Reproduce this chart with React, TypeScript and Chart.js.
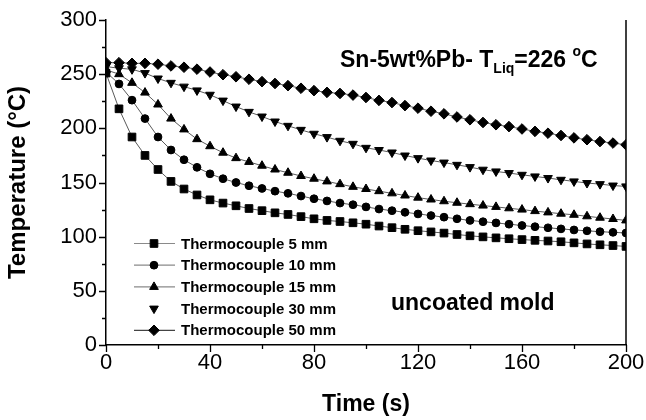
import { useEffect, useRef } from "react";
import { Chart, registerables } from "chart.js";
import { drawPoint } from "chart.js/helpers";

Chart.register(...registerables);

// Sampling instants (s)
const timeSeconds = [
  0, 5, 10, 15, 20, 25, 30, 35, 40, 45, 50, 55, 60, 65, 70, 75, 80, 85, 90, 95,
  100, 105, 110, 115, 120, 125, 130, 135, 140, 145, 150, 155, 160, 165, 170,
  175, 180, 185, 190, 195, 200,
];

// Thermocouple readings (°C)
const tc5mm = [
  251, 218, 192, 175, 162, 151, 144, 138.5, 134, 131, 128.5, 126, 124, 122,
  120.5, 118.5, 116.5, 115, 114, 112.8, 111.5, 109.8, 108.3, 106.8, 105.5,
  104.4, 103.3, 102, 100.8, 99.8, 98.9, 98.1, 97.3, 96.6, 96, 95.3, 94.3, 93.3,
  92.5, 91.8, 91,
];
const tc10mm = [
  252, 241, 226, 209, 192, 180, 171, 164, 158, 153.5, 150, 147, 144.5, 142, 140,
  137.5, 135, 133, 131, 129.5, 127.5, 125.5, 124, 122.5, 121, 119.5, 118, 116.5,
  115, 113.8, 112.7, 111.5, 110.3, 109.2, 108.2, 107.2, 106.2, 105.4, 104.6,
  104, 103.4,
];
const tc15mm = [
  254, 250, 242, 233, 222, 209, 199, 190, 183.5, 177.5, 172.5, 169, 165.5, 162,
  159, 156, 153.5, 151, 148.5, 146, 144, 142, 140, 138, 136, 134.3, 132.7,
  131.3, 130, 128.7, 127.5, 126.2, 125, 123.6, 122.4, 121.2, 120.2, 118.8,
  117.5, 116.3, 115,
];
const tc30mm = [
  257, 255.5, 254.5, 251, 246, 242, 238.5, 235, 231, 225.6, 220.1, 215.2, 210.9,
  206.3, 202.3, 198.6, 195, 191.9, 188.5, 185.7, 182, 180, 177.7, 174.9, 172.5,
  170.3, 168.4, 166.3, 164.2, 161.8, 160.2, 158.7, 157.1, 155.6, 154.1, 152.5,
  151, 149.5, 148.5, 147.2, 146.4,
];
const tc50mm = [
  260.6, 260.6, 260, 260, 259.2, 257.6, 256.4, 254.6, 252, 249.5, 247.6, 245.3,
  243.1, 241.4, 239.4, 237, 234.8, 233.2, 232.2, 230.7, 228.5, 225.8, 223.8,
  221, 218.6, 215.8, 213.4, 210.5, 207.9, 205.4, 203.3, 201.6, 199.4, 197.2,
  195.5, 193.4, 191.2, 189.5, 187.8, 186.4, 184.8,
];

const seriesLabels = [
  "Thermocouple 5 mm",
  "Thermocouple 10 mm",
  "Thermocouple 15 mm",
  "Thermocouple 30 mm",
  "Thermocouple 50 mm",
];
const seriesValues = [tc5mm, tc10mm, tc15mm, tc30mm, tc50mm];

const FONT = "'Liberation Sans', Arial, Helvetica, sans-serif";

type MarkerSpec = { style: any; radius: number; rotation: number; legendLine: boolean };
const markers: MarkerSpec[] = [
  { style: "rect", radius: 5.4, rotation: 0, legendLine: true },
  { style: "circle", radius: 3.9, rotation: 0, legendLine: true },
  { style: "triangle", radius: 5, rotation: 0, legendLine: true },
  { style: "triangle", radius: 5, rotation: 180, legendLine: false },
  { style: "rectRot", radius: 5.3, rotation: 0, legendLine: true },
];

// Minor/major tick marks pointing outward, right frame line, legend and notes
const decorations: any = {
  id: "decorations",
  afterDatasetsDraw(chart: any) {
    const { ctx, chartArea, scales } = chart;
    const xs = scales.x;
    const ys = scales.y;
    ctx.save();
    ctx.strokeStyle = "#000";
    ctx.lineWidth = 1.3;
    ctx.beginPath();
    for (let v = 0; v <= 200; v += 20) {
      const px = Math.round(xs.getPixelForValue(v)) + 0.5;
      const len = v % 40 === 0 ? 7 : 4;
      ctx.moveTo(px, chartArea.bottom);
      ctx.lineTo(px, chartArea.bottom + len);
    }
    for (let v = 0; v <= 300; v += 25) {
      const py = Math.round(ys.getPixelForValue(v)) + 0.5;
      const len = v % 50 === 0 ? 7 : 4;
      ctx.moveTo(chartArea.left, py);
      ctx.lineTo(chartArea.left - len, py);
    }
    ctx.stroke();

    // right frame line
    ctx.lineWidth = 1.5;
    ctx.beginPath();
    ctx.moveTo(chartArea.right, chartArea.top);
    ctx.lineTo(chartArea.right, chartArea.bottom);
    ctx.stroke();

    // legend
    const lx = chartArea.left + 28;
    const ly0 = chartArea.top + 223.5;
    const rowH = 21.7;
    ctx.font = `bold 15px ${FONT}`;
    ctx.textBaseline = "middle";
    ctx.textAlign = "left";
    seriesLabels.forEach((label, i) => {
      const y = ly0 + i * rowH;
      const m = markers[i];
      if (m.legendLine) {
        ctx.strokeStyle = i === 4 ? "#444" : "#8a8a8a";
        ctx.lineWidth = 1.2;
        ctx.beginPath();
        ctx.moveTo(lx, y);
        ctx.lineTo(lx + 41, y);
        ctx.stroke();
      }
      ctx.fillStyle = "#000";
      ctx.strokeStyle = "#000";
      ctx.lineWidth = 1;
      drawPoint(ctx, { pointStyle: m.style, radius: m.radius, rotation: m.rotation, borderWidth: 1 }, lx + 20, y);
      ctx.fillStyle = "#000";
      ctx.fillText(label, lx + 47, y + 1);
    });

    // alloy note with subscript / superscript
    ctx.fillStyle = "#000";
    ctx.textBaseline = "alphabetic";
    let tx = chartArea.left + 234;
    const base = chartArea.top + 47;
    const big = `bold 23px ${FONT}`;
    const small = `bold 14px ${FONT}`;
    const put = (s: string, font: string, dy: number) => {
      ctx.font = font;
      ctx.fillText(s, tx, base + dy);
      tx += ctx.measureText(s).width;
    };
    put("Sn-5wt%Pb- T", big, 0);
    put("Liq", small, 6);
    put("=226 ", big, 0);
    put("o", small, -11);
    put("C", big, 0);

    // mold note
    ctx.font = `bold 23px ${FONT}`;
    ctx.fillText("uncoated mold", chartArea.left + 285, chartArea.top + 290);
    ctx.restore();
  },
};

export default function App() {
  const canvasRef = useRef<HTMLCanvasElement | null>(null);

  useEffect(() => {
    const canvas = canvasRef.current;
    if (!canvas) return;

    const datasets = seriesLabels.map((label, i) => ({
      label,
      data: timeSeconds.map((t, k) => ({ x: t, y: seriesValues[i][k] })),
      borderColor: "#5a5a5a",
      borderWidth: 1,
      backgroundColor: "#000",
      pointBackgroundColor: "#000",
      pointBorderColor: "#000",
      pointBorderWidth: 1,
      pointStyle: markers[i].style,
      pointRadius: markers[i].radius,
      pointRotation: markers[i].rotation,
      tension: 0,
    }));

    const chart = new Chart(canvas, {
      type: "line",
      data: { datasets },
      plugins: [decorations],
      options: {
        responsive: false,
        animation: false,
        devicePixelRatio: 1,
        layout: { padding: { top: 20, right: 20, left: 0, bottom: 0 } },
        plugins: { legend: { display: false }, tooltip: { enabled: false } },
        scales: {
          x: {
            type: "linear",
            min: 0,
            max: 200,
            grid: { display: false, drawTicks: false },
            border: { display: true, color: "#000", width: 1.5 },
            ticks: {
              stepSize: 40,
              maxRotation: 0,
              autoSkip: false,
              padding: 5,
              color: "#000",
              font: { family: FONT, size: 22 },
            },
            title: {
              display: true,
              text: "Time (s)",
              color: "#000",
              font: { family: FONT, size: 23, weight: "bold" },
              padding: { top: 0, bottom: 2 },
            },
            afterFit: (s: any) => {
              s.height = 75;
              s.paddingLeft = 0;
              s.paddingRight = 0;
            },
          },
          y: {
            type: "linear",
            min: 0,
            max: 300,
            grid: { display: false, drawTicks: false },
            border: { display: true, color: "#000", width: 1.5 },
            ticks: {
              stepSize: 50,
              padding: 9,
              color: "#000",
              font: { family: FONT, size: 22 },
            },
            title: {
              display: true,
              text: "Temperature (°C)",
              color: "#000",
              font: { family: FONT, size: 24, weight: "bold" },
              padding: { top: 4, bottom: 0 },
            },
            afterFit: (s: any) => {
              s.width = 106;
              s.paddingTop = 0;
              s.paddingBottom = 0;
            },
          },
        },
      } as any,
    });

    return () => chart.destroy();
  }, []);

  return (
    <div style={{ position: "fixed", left: 0, top: 0, width: 646, height: 420, background: "#fff" }}>
      <canvas ref={canvasRef} width={646} height={420} />
    </div>
  );
}
